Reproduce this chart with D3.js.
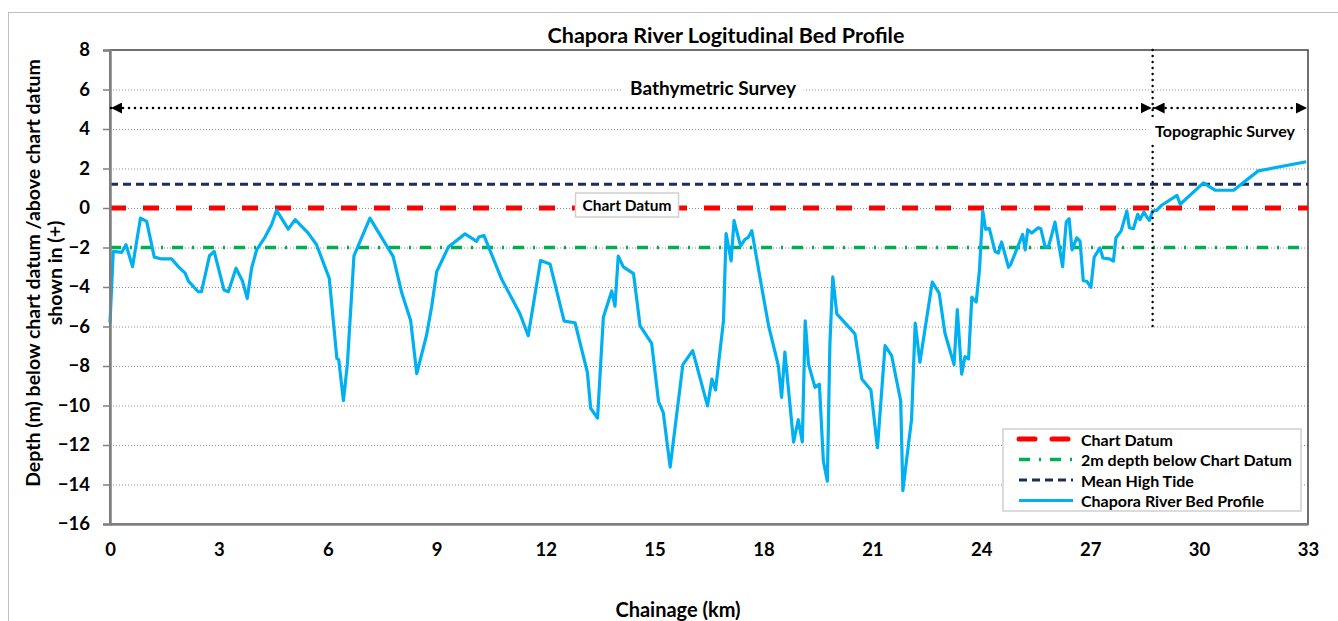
<!DOCTYPE html>
<html><head><meta charset="utf-8">
<script src="https://cdn.jsdelivr.net/npm/d3@7"></script>
<style>
body{margin:0;background:#fff;}
svg text{font-family:Lato,"Open Sans",sans-serif;font-weight:bold;fill:#000;}
</style></head>
<body><svg id="chart" width="1338" height="621"></svg>
<script>
const chainage = [0,0.09,0.32,0.44,0.62,0.84,1.01,1.22,1.42,1.70,1.88,2.07,2.16,2.43,2.52,2.74,2.87,3.14,3.26,3.47,3.65,3.78,3.90,4.04,4.27,4.45,4.59,4.91,5.10,5.46,5.69,6.04,6.25,6.30,6.43,6.54,6.72,7.16,7.80,8.04,8.28,8.45,8.72,8.86,9.0,9.32,9.78,10.10,10.16,10.30,10.79,11.29,11.52,11.86,12.12,12.51,12.81,13.15,13.24,13.43,13.59,13.82,13.91,14.0,14.14,14.42,14.60,14.92,15.11,15.24,15.43,15.78,16.05,16.46,16.58,16.68,16.90,16.97,17.11,17.19,17.37,17.49,17.58,17.68,17.91,18.14,18.41,18.50,18.59,18.83,18.96,19.07,19.15,19.24,19.42,19.54,19.65,19.76,19.83,19.91,20.02,20.52,20.71,20.96,21.14,21.35,21.53,21.78,21.84,22.08,22.18,22.31,22.65,22.84,23.0,23.25,23.34,23.46,23.55,23.65,23.74,23.86,23.95,24.04,24.12,24.22,24.38,24.47,24.56,24.75,24.81,25.14,25.21,25.28,25.39,25.57,25.64,25.76,25.85,25.92,26.03,26.24,26.34,26.42,26.50,26.63,26.72,26.81,26.91,27.02,27.11,27.27,27.35,27.53,27.64,27.71,27.85,28.01,28.08,28.19,28.31,28.37,28.48,28.53,28.63,28.72,28.83,28.97,29.39,29.48,30.12,30.44,30.95,31.63,32.95];
const bedLevel = [-5.8,-2.2,-2.25,-1.86,-2.97,-0.51,-0.68,-2.49,-2.58,-2.58,-2.97,-3.3,-3.7,-4.24,-4.24,-2.42,-2.2,-4.15,-4.24,-3.05,-3.7,-4.58,-3.05,-2.12,-1.47,-0.85,-0.12,-1.07,-0.59,-1.27,-1.86,-3.56,-7.63,-7.68,-9.75,-7.88,-2.42,-0.51,-2.46,-4.32,-5.68,-8.39,-6.44,-5.0,-3.22,-1.98,-1.31,-1.69,-1.47,-1.39,-3.61,-5.34,-6.47,-2.66,-2.83,-5.73,-5.81,-8.32,-10.14,-10.64,-5.53,-4.2,-4.97,-2.44,-2.98,-3.32,-5.95,-6.85,-9.8,-10.36,-13.12,-7.93,-7.22,-10.02,-8.66,-9.22,-5.69,-1.29,-2.68,-0.64,-1.93,-1.59,-1.49,-1.15,-3.58,-5.95,-7.98,-9.59,-7.3,-11.85,-10.72,-11.85,-5.71,-7.9,-9.08,-8.92,-12.81,-13.83,-6.88,-3.49,-5.36,-6.37,-8.66,-9.22,-12.14,-6.97,-7.47,-9.76,-14.31,-10.69,-5.83,-7.81,-3.75,-4.31,-6.34,-7.93,-5.15,-8.41,-7.53,-7.64,-4.51,-4.76,-3.15,-0.14,-1.08,-1.03,-2.2,-2.28,-1.72,-3.0,-2.86,-1.34,-2.12,-1.1,-1.27,-1.0,-1.05,-1.98,-1.95,-1.51,-0.71,-2.97,-0.71,-0.54,-2.12,-1.51,-1.68,-3.68,-3.71,-4.02,-2.49,-2.02,-2.53,-2.58,-2.69,-1.51,-1.17,-0.15,-1.0,-1.05,-0.32,-0.59,-0.2,-0.37,-0.63,-0.15,-0.12,0.14,0.64,0.19,1.27,0.9,0.9,1.88,2.34];
const chartDatum = 0;
const depth2m = -2;
const meanHighTide = 1.2;
const surveyBoundary = 28.72;
const xTicks = [0,3,6,9,12,15,18,21,24,27,30,33];
const yTicks = [-16,-14,-12,-10,-8,-6,-4,-2,0,2,4,6,8];
const seriesNames = ["Chart Datum","2m depth below Chart Datum","Mean High Tide","Chapora River Bed Profile"];

const svg = d3.select("#chart");
const L=110,R=1308,T=50,B=524;
const x = d3.scaleLinear().domain([0,33]).range([L,R]);
const y = d3.scaleLinear().domain([-16,8]).range([B,T]);

// outer chart border
svg.append("rect").attr("x",8.5).attr("y",12.5).attr("width",1340).attr("height",620)
  .attr("fill","none").attr("stroke","#bfbfbf");

// gridlines
svg.append("g").selectAll("line").data(yTicks.filter(v=>v>-16&&v<8)).join("line")
  .attr("x1",L).attr("x2",R).attr("y1",d=>y(d)+0.5).attr("y2",d=>y(d)+0.5)
  .attr("stroke","#8c8c8c").attr("stroke-width",1).attr("stroke-dasharray","1,2");

// plot border
svg.append("rect").attr("x",L).attr("y",T).attr("width",R-L).attr("height",B-T)
  .attr("fill","none").attr("stroke","#404040").attr("stroke-width",1.5);

// reference lines
const refLine=(v,color,w,dash)=>svg.append("line").attr("x1",L).attr("x2",R)
  .attr("y1",y(v)).attr("y2",y(v)).attr("stroke",color).attr("stroke-width",w).attr("stroke-dasharray",dash);
refLine(depth2m,"#00b050",3.5,"11,9,2,9");
refLine(meanHighTide,"#1a2f5e",3,"8,5");
refLine(chartDatum,"#ff0000",5,"16,17");

// bed profile
const pts = chainage.map((c,i)=>[c,bedLevel[i]]);
svg.append("path").datum(pts).attr("fill","none").attr("stroke","#00b0f0").attr("stroke-width",3.2)
  .attr("stroke-linejoin","round")
  .attr("d",d3.line().x(d=>x(d[0])).y(d=>y(d[1])));

// axes
const yAxis = svg.append("g").attr("transform",`translate(${L},0)`)
  .call(d3.axisLeft(y).tickValues(yTicks).tickSize(7).tickPadding(13).tickFormat(d3.format("d")));
yAxis.select(".domain").attr("stroke","#808080").attr("stroke-width",2.5);
yAxis.selectAll(".tick line").attr("stroke","#808080").attr("stroke-width",1.5);
yAxis.selectAll("text").style("font-size","18.5px");
const xAxis = svg.append("g").attr("transform",`translate(0,${B})`)
  .call(d3.axisBottom(x).tickValues(xTicks).tickSize(0).tickPadding(19).tickFormat(d3.format("d")));
xAxis.select(".domain").attr("stroke","#808080").attr("stroke-width",2.5);
xAxis.selectAll("text").style("font-size","18.5px");

// survey boundary vertical dotted line
const xb = x(surveyBoundary);
svg.append("line").attr("x1",xb).attr("x2",xb).attr("y1",T).attr("y2",y(-6))
  .attr("stroke","#000").attr("stroke-width",2.4).attr("stroke-linecap","round").attr("stroke-dasharray","0,6");

// arrows
const defs = svg.append("defs");
defs.append("marker").attr("id","arr").attr("viewBox","0 0 10 10").attr("refX",10).attr("refY",5)
  .attr("markerWidth",11).attr("markerHeight",11).attr("markerUnits","userSpaceOnUse").attr("orient","auto-start-reverse")
  .append("path").attr("d","M0,0L10,5L0,10Z").attr("fill","#000");
const arrowY = 108;
[[L,xb],[xb,R]].forEach(([a,b])=>{
  svg.append("line").attr("x1",a+1).attr("x2",b-1).attr("y1",arrowY).attr("y2",arrowY)
    .attr("stroke","#000").attr("stroke-width",2.6).attr("stroke-linecap","round").attr("stroke-dasharray","0,6")
    .attr("marker-start","url(#arr)").attr("marker-end","url(#arr)");
});

// labels with white background
function boxLabel(cx,cy,text,size,border){
  const t = svg.append("text").attr("x",cx).attr("y",cy).attr("text-anchor","middle")
    .attr("dominant-baseline","central").style("font-size",size+"px").text(text);
  const bb = t.node().getBBox();
  svg.insert("rect",()=>t.node()).attr("x",bb.x-7).attr("y",bb.y-3).attr("width",bb.width+14).attr("height",bb.height+6)
    .attr("fill","#fff").attr("stroke",border?"#d0d0d0":"none").attr("stroke-width",1.5);
}
boxLabel(713,87,"Bathymetric Survey",19,false);
boxLabel(1225,130,"Topographic Survey",16,false);
boxLabel(627,205,"Chart Datum",15.5,true);

// title
svg.append("text").attr("x",726).attr("y",35).attr("text-anchor","middle").attr("dominant-baseline","central")
  .style("font-size","21.5px").text("Chapora River Logitudinal Bed Profile");

// axis titles
svg.append("text").attr("transform","translate(32,273) rotate(-90)").attr("text-anchor","middle")
  .attr("dominant-baseline","central").style("font-size","19.5px").text("Depth (m) below chart  datum /above chart datum");
svg.append("text").attr("transform","translate(54,273) rotate(-90)").attr("text-anchor","middle")
  .attr("dominant-baseline","central").style("font-size","19.5px").text("shown in (+)");
svg.append("text").attr("x",678).attr("y",609).attr("text-anchor","middle").attr("dominant-baseline","central")
  .style("font-size","20px").text("Chainage  (km)");

// legend
const lg = svg.append("g");
lg.append("rect").attr("x",1003).attr("y",429).attr("width",298).attr("height",82)
  .attr("fill","#fff").attr("stroke","#d0d0d0").attr("stroke-width",1.5);
const styles = [
  {c:"#ff0000",w:5,d:"16,17"},
  {c:"#00b050",w:3.5,d:"11,9,2,9"},
  {c:"#1a2f5e",w:3,d:"8,5"},
  {c:"#00b0f0",w:3,d:null}
];
seriesNames.forEach((n,i)=>{
  const yy = 439 + i*20.5;
  const s = styles[i];
  lg.append("line").attr("x1",1019).attr("x2",1073).attr("y1",yy).attr("y2",yy)
    .attr("stroke",s.c).attr("stroke-width",s.w).attr("stroke-dasharray",s.d).attr("stroke-linecap",i==0?"round":"butt");
  lg.append("text").attr("x",1081).attr("y",yy).attr("dominant-baseline","central").style("font-size","16px").text(n);
});
</script></body></html>
